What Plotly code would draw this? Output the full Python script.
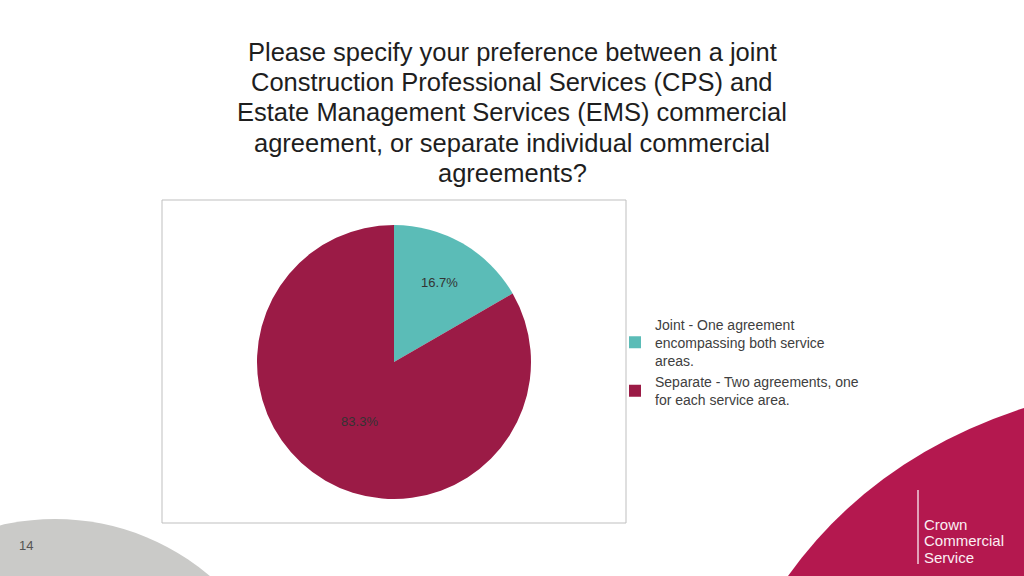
import plotly.graph_objects as go

# ---- data ----
labels = ["Joint - One agreement<br>encompassing both service<br>areas.",
          "Separate - Two agreements, one<br>for each service area."]
values = [1, 5]
slice_colors = ["#5BBCB7", "#9B1B46"]
title_lines = ["Please specify your preference between a joint",
               "Construction Professional Services (CPS) and",
               "Estate Management Services (EMS) commercial",
               "agreement, or separate individual commercial",
               "agreements?"]
page_number = "14"
logo_lines = ["Crown", "Commercial", "Service"]

W, H = 1024, 576
def px(x): return x / W
def py(y): return 1 - y / H

FONT = "Liberation Sans, Arial"

fig = go.Figure()
fig.add_trace(go.Pie(
    labels=labels, values=values, sort=False, direction="clockwise", rotation=0,
    marker=dict(colors=slice_colors, line=dict(width=0)),
    textinfo="percent", texttemplate="%{percent:.1%}", textposition="inside",
    insidetextfont=dict(color="#333333", size=13, family=FONT),
    domain=dict(x=[px(394 - 137), px(394 + 137)], y=[py(499), py(225)]),
    hoverinfo="label+percent", insidetextorientation="horizontal",
))

shapes = []
# chart border
shapes.append(dict(type="rect", xref="paper", yref="paper",
                   x0=px(162), x1=px(626), y0=py(523), y1=py(200),
                   line=dict(color="#BFBFBF", width=1), layer="below"))
# gray circle bottom-left
cx, cy, r = 55, 758, 239
shapes.append(dict(type="circle", xref="paper", yref="paper",
                   x0=px(cx - r), x1=px(cx + r), y0=py(cy + r), y1=py(cy - r),
                   fillcolor="#CACAC8", line=dict(width=0), layer="below"))
# magenta curve bottom-right
def P(x, y): return f"{px(x):.5f},{py(y):.5f}"
path = f"M {P(788,576)} Q {P(873,457)} {P(1024,408)} L {P(1024,576)} Z"
shapes.append(dict(type="path", xref="paper", yref="paper", path=path,
                   fillcolor="#B4184F", line=dict(width=0), layer="below"))
# logo vertical line
shapes.append(dict(type="line", xref="paper", yref="paper",
                   x0=px(918), x1=px(918), y0=py(490), y1=py(564),
                   line=dict(color="white", width=1.2)))

annotations = []
for i, line in enumerate(title_lines):
    annotations.append(dict(text=line, xref="paper", yref="paper",
                            x=px(512), y=py(52 + 30.2 * i), xanchor="center", yanchor="middle",
                            showarrow=False,
                            font=dict(size=25.5, color="#1E1E1E", family=FONT)))
annotations.append(dict(text=page_number, xref="paper", yref="paper", x=px(17), y=py(545),
                        xanchor="left", yanchor="middle", showarrow=False,
                        font=dict(size=13, color="#555555", family=FONT)))
for i, line in enumerate(logo_lines):
    annotations.append(dict(text=line, xref="paper", yref="paper", x=px(922), y=py(524 + 16.5 * i),
                            xanchor="left", yanchor="middle", showarrow=False,
                            font=dict(size=15, color="#FBEFF3", family=FONT)))

fig.update_layout(
    width=W, height=H, margin=dict(l=0, r=0, t=0, b=0),
    paper_bgcolor="white", plot_bgcolor="white",
    shapes=shapes, annotations=annotations,
    showlegend=True,
    legend=dict(x=px(615), y=py(362), xanchor="left", yanchor="middle",
                font=dict(size=14, color="#404040", family=FONT),
                itemwidth=30, tracegroupgap=0, bgcolor="rgba(0,0,0,0)"),
)

fig.write_html("out.html", config={"displayModeBar": False},
               post_script="document.body.style.margin='0';document.body.style.overflow='hidden';")
